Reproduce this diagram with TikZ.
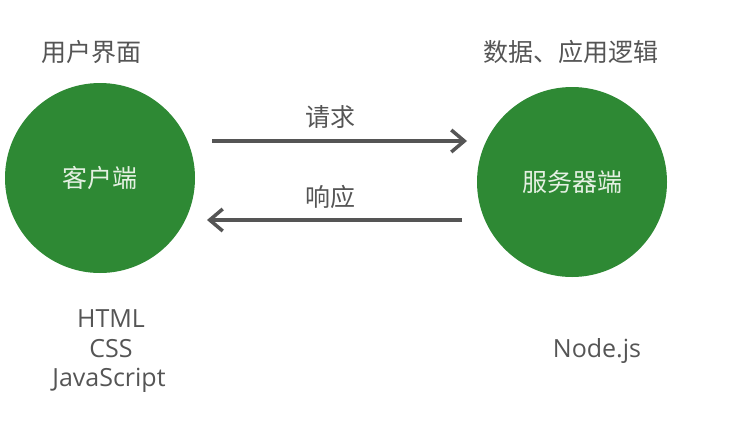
\documentclass[tikz,border=0pt]{standalone}
\usepackage{fontspec}
\setmainfont{Open Sans}
\newfontfamily\cjk{Noto Sans CJK SC}
\usetikzlibrary{arrows.meta}
\definecolor{nodegreen}{RGB}{46,137,52}
\definecolor{inkgray}{RGB}{85,85,85}
\definecolor{paletext}{RGB}{228,240,226}
\begin{document}
\begin{tikzpicture}[x=1pt,y=-1pt,
  endpoint/.style={circle,fill=nodegreen,minimum size=190pt,inner sep=0pt,
    text=paletext,font=\cjk\fontsize{25}{30}\selectfont},
  caption/.style={text=inkgray,font=\cjk\fontsize{25}{30}\selectfont},
  techlist/.style={text=inkgray,anchor=base,inner sep=0pt,
    font=\fontsize{25}{30}\selectfont},
  flow/.style={draw=inkgray,line width=3.5pt,
    -{Straight Barb[length=13pt,width=22pt,line width=3.5pt]}}]
\useasboundingbox (0,0) rectangle (747,429);
% the two ends of the exchange
\node[endpoint] (client) at (100,178) {客户端};
\node[endpoint] (server) at (572,182) {服务器端};
% what each end is responsible for
\node[caption] (ui) at (91,52) {用户界面};
\node[caption] (logic) at (571,52) {数据、应用逻辑};
% request / response arrows
\coordinate (reqA) at (212,141);
\coordinate (reqB) at (467,141);
\coordinate (resA) at (462,220);
\coordinate (resB) at (207,220);
\draw[flow] (reqA) -- (reqB);
\draw[flow] (resA) -- (resB);
\node[caption] (req) at (330,117) {请求};
\node[caption] (res) at (330,197) {响应};
% technologies used on each side
\node[techlist] (html) at (111,327) {HTML};
\node[techlist] (css) at (111,357) {CSS};
\node[techlist] (js) at (109,386) {JavaScript};
\node[techlist] (node) at (597,357) {Node.js};
\end{tikzpicture}
\end{document}
